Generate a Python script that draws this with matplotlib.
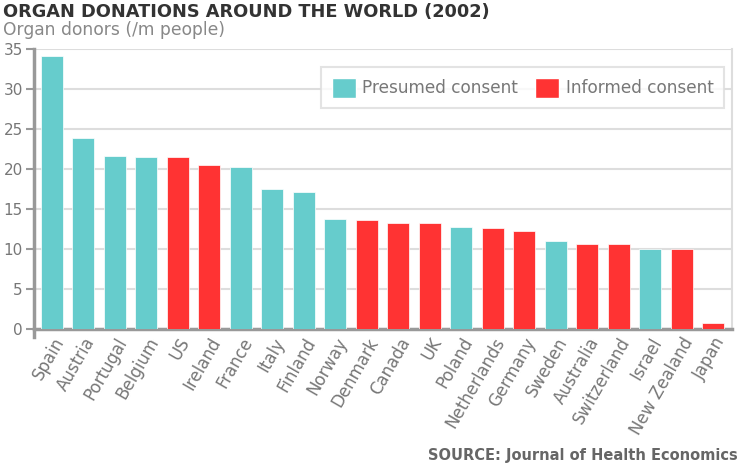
import matplotlib.pyplot as plt
from matplotlib.patches import Patch

countries = ['Spain', 'Austria', 'Portugal', 'Belgium', 'US', 'Ireland', 'France',
             'Italy', 'Finland', 'Norway', 'Denmark', 'Canada', 'UK', 'Poland',
             'Netherlands', 'Germany', 'Sweden', 'Australia', 'Switzerland',
             'Israel', 'New Zealand', 'Japan']
donors = [34.1, 23.9, 21.7, 21.5, 21.5, 20.5, 20.3, 17.5, 17.1, 13.8, 13.6, 13.2,
          13.2, 12.8, 12.6, 12.2, 11.0, 10.6, 10.6, 10.0, 10.0, 0.7]
# P = presumed consent, I = informed consent
consent = ['P', 'P', 'P', 'P', 'I', 'I', 'P', 'P', 'P', 'P', 'I', 'I', 'I', 'P',
           'I', 'I', 'P', 'I', 'I', 'P', 'I', 'I']

teal = '#66CCCC'
red = '#FF3333'
colors = [teal if c == 'P' else red for c in consent]

fig = plt.figure(figsize=(7.41, 4.69), dpi=100)
ax = fig.add_axes([0.0459, 0.2989, 0.9420, 0.5960])

x = range(len(countries))
ax.bar(x, donors, width=0.7, color=colors, edgecolor='white', linewidth=0.5, zorder=3)

ax.set_xlim(-0.57, len(countries) - 1 + 0.6)
ax.set_ylim(0, 35)
ax.set_yticks(range(0, 36, 5))
ax.grid(axis='y', color='#dddddd', linewidth=1.5, zorder=0)

ax.spines['top'].set_visible(False)
ax.spines['right'].set_color('#dddddd')
ax.spines['right'].set_linewidth(1.5)
ax.spines['left'].set_color('#999999')
ax.spines['left'].set_linewidth(2.5)
ax.spines['bottom'].set_color('#999999')
ax.spines['bottom'].set_linewidth(2.5)
ax.spines['left'].set_bounds(-1, 35)
ax.spines['left'].set_clip_on(False)

ax.tick_params(axis='y', colors='#999999', labelcolor='#777777', labelsize=11,
               length=6, width=1.5, pad=2)
ax.tick_params(axis='x', length=0, pad=4)
ax.set_xticks(list(x))
ax.set_xticklabels(countries, rotation=60, ha='right', rotation_mode='anchor',
                   fontsize=12, color='#777777')

handles = [Patch(facecolor=teal, edgecolor='white', label='Presumed consent'),
           Patch(facecolor=red, edgecolor='white', label='Informed consent')]
leg = ax.legend(handles=handles, loc='upper right', bbox_to_anchor=(0.9885, 0.935),
                borderaxespad=0, ncol=2, fontsize=12.2, frameon=True, fancybox=False,
                handlelength=1.4, handleheight=1.4, handletextpad=0.4,
                columnspacing=1.0, borderpad=0.62, labelcolor='#777777')
leg.get_frame().set_edgecolor('#dddddd')
leg.get_frame().set_linewidth(1.5)
leg.set_zorder(5)

fig.text(0.004, 0.974, 'ORGAN DONATIONS AROUND THE WORLD (2002)', fontsize=12.8,
         fontweight='bold', color='#333333', va='center', ha='left')
fig.text(0.004, 0.935, 'Organ donors (/m people)', fontsize=12.3,
         color='#888888', va='center', ha='left')
fig.text(0.995, 0.028, 'SOURCE: Journal of Health Economics', fontsize=10.5,
         fontweight='bold', color='#666666', va='center', ha='right')

fig.savefig('out.png', dpi=100)
